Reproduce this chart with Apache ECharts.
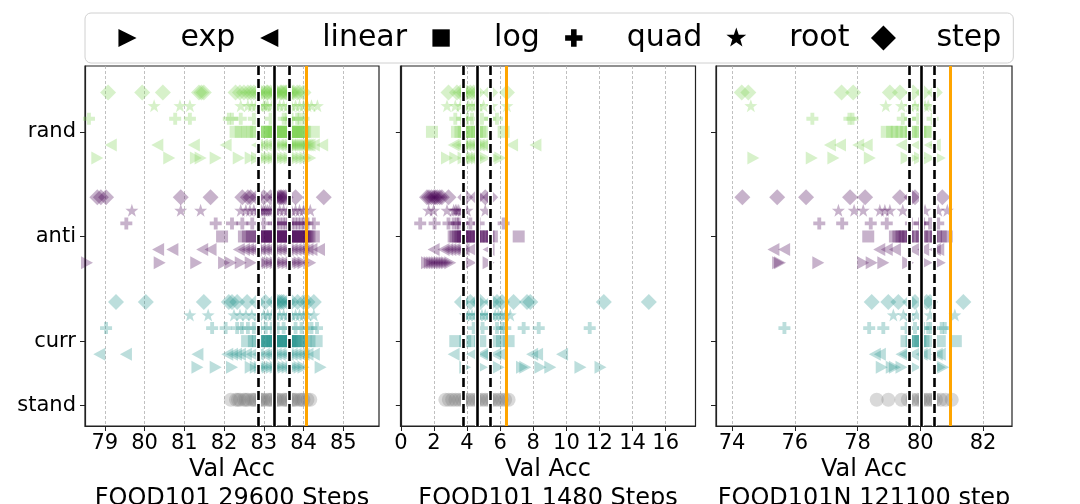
<!DOCTYPE html>
<html>
<head>
<meta charset="utf-8">
<script src="https://cdn.jsdelivr.net/npm/echarts@6/dist/echarts.min.js"></script>
<style>
  html, body { margin: 0; padding: 0; background: #fff; }
  #chart { width: 1080px; height: 504px; }
</style>
</head>
<body>
<div id="chart"></div>
<script>
// y tick labels (category rows)
const yTickLabels = ['rand', 'anti', 'curr', 'stand'];
const yTickValues = [3, 2, 1, 0.385];
const methods = ['exp', 'linear', 'log', 'quad', 'root', 'step'];

// ---- FOOD101 29600 Steps ----
const p1Ticks = [79, 80, 81, 82, 83, 84, 85];
const p1Lines = [82.86, 83.26, 83.64, 84.08]; // lo, mean, hi, best
const p1RandExp = [78.81, 80.62, 81.29, 81.41, 81.79, 82.37, 82.67, 82.83, 82.95, 83.05, 83.15, 83.25, 83.35, 83.45, 83.55, 83.65, 83.75, 83.85, 83.95, 84.05, 84.17];
const p1RandLinear = [79.15, 80.32, 81.24, 82.04, 82.83, 82.95, 83.05, 83.15, 83.25, 83.35, 83.42, 83.5, 83.58, 83.6, 83.66, 83.7, 83.75, 83.8, 83.85, 83.9, 83.95, 84.0, 84.05, 84.1, 84.15, 84.26, 84.47];
const p1RandLog = [82.29, 82.42, 82.58, 82.71, 82.8, 83.0, 83.04, 83.08, 83.12, 83.15, 83.22, 83.26, 83.3, 83.34, 83.38, 83.42, 83.45, 83.52, 83.56, 83.6, 83.64, 83.68, 83.72, 83.75, 83.82, 83.86, 83.9, 83.94, 83.97, 84.0, 84.04, 84.26];
const p1RandQuad = [78.6, 80.77, 81.14, 82.12, 82.2, 82.42, 82.75, 83.17, 83.5, 83.58, 83.63, 83.7, 83.84, 83.9, 84.0];
const p1RandRoot = [80.24, 80.89, 81.14, 82.42, 82.6, 82.7, 82.8, 82.9, 83.0, 83.05, 83.1, 83.2, 83.3, 83.4, 83.5, 83.6, 83.7, 83.8, 83.9, 84.0, 84.1, 84.2, 84.35];
const p1RandStep = [79.08, 79.94, 80.46, 81.37, 81.43, 81.49, 82.29, 82.4, 82.5, 82.6, 82.67, 82.75, 82.83, 82.92, 83.0, 83.08, 83.1, 83.17, 83.25, 83.3, 83.33, 83.42, 83.45, 83.5, 83.55, 83.58, 83.67, 83.7, 83.75, 83.84, 83.9, 84.0];
const p1AntiExp = [78.55, 80.38, 81.3, 82.0, 82.17, 82.42, 82.67, 83.0, 83.1, 83.2, 83.3, 83.4, 83.5, 83.6, 83.7, 83.8, 83.9, 84.0, 84.17];
const p1AntiLinear = [80.34, 80.7, 81.45, 81.66, 82.37, 82.5, 82.6, 82.7, 82.8, 82.9, 83.0, 83.1, 83.2, 83.3, 83.4, 83.5, 83.6, 83.7, 83.8, 83.9, 84.0, 84.1, 84.2, 84.39];
const p1AntiLog = [81.95, 82.5, 82.6, 82.7, 82.8, 82.9, 82.95, 83.0, 83.05, 83.1, 83.15, 83.2, 83.25, 83.3, 83.35, 83.4, 83.45, 83.5, 83.55, 83.6, 83.65, 83.7, 83.75, 83.8, 83.85, 83.9, 83.95, 84.0, 84.05, 84.1, 84.15, 84.26];
const p1AntiQuad = [79.54, 81.79, 82.2, 82.46, 82.71, 83.0, 83.25, 83.32, 83.4, 83.48, 83.55, 83.62, 83.7, 83.78, 83.86, 83.94, 84.02, 84.1, 84.26];
const p1AntiRoot = [79.68, 80.91, 81.41, 82.42, 82.55, 82.65, 82.75, 82.85, 82.9, 82.95, 83.0, 83.05, 83.1, 83.15, 83.2, 83.3, 83.4, 83.5, 83.6, 83.7, 83.8, 83.9, 84.0, 84.17];
const p1AntiStep = [78.81, 78.9, 79.03, 80.91, 81.66, 82.46, 82.6, 82.67, 82.83, 83.0, 83.17, 83.3, 83.38, 83.42, 83.45, 83.5, 83.55, 83.8, 84.51];
const p1CurrExp = [81.33, 81.79, 82.2, 82.67, 82.8, 82.9, 83.0, 83.1, 83.2, 83.3, 83.4, 83.5, 83.6, 83.7, 83.8, 83.9, 84.0, 84.43];
const p1CurrLinear = [78.86, 79.53, 81.33, 82.08, 82.2, 82.3, 82.4, 82.55, 82.7, 82.85, 83.0, 83.1, 83.2, 83.3, 83.4, 83.5, 83.6, 83.7, 83.8, 83.9, 84.0, 84.1, 84.26];
const p1CurrLog = [82.58, 82.75, 82.85, 82.95, 83.0, 83.05, 83.1, 83.12, 83.2, 83.24, 83.28, 83.32, 83.35, 83.42, 83.46, 83.5, 83.54, 83.58, 83.62, 83.66, 83.7, 83.75, 83.8, 83.85, 83.9, 83.95, 84.05, 84.15, 84.33];
const p1CurrQuad = [79.03, 81.7, 82.04, 82.33, 82.45, 82.6, 82.75, 82.9, 83.05, 83.2, 83.35, 83.5, 83.65, 83.8, 83.95, 84.1, 84.2, 84.34];
const p1CurrRoot = [81.14, 81.6, 82.25, 82.4, 82.55, 82.7, 82.85, 83.0, 83.1, 83.2, 83.3, 83.4, 83.5, 83.6, 83.7, 83.8, 83.9, 84.0, 84.1, 84.26];
const p1CurrStep = [79.28, 80.03, 81.49, 82.12, 82.2, 82.33, 82.58, 82.83, 83.04, 83.25, 83.35, 83.4, 83.45, 83.5, 83.6, 83.7, 83.85, 84.0, 84.1, 84.26];
const p1Stand = [82.17, 82.3, 82.35, 82.4, 82.5, 82.55, 82.6, 82.7, 82.75, 82.8, 82.9, 82.95, 83.0, 83.1, 83.15, 83.2, 83.3, 83.35, 83.4, 83.5, 83.55, 83.6, 83.7, 83.75, 83.8, 83.9, 83.95, 84.0, 84.1, 84.17];

// ---- FOOD101 1480 Steps ----
const p2Ticks = [0, 2, 4, 6, 8, 10, 12, 14, 16];
const p2Lines = [3.79, 4.64, 5.42, 6.39];
const p2RandExp = [2.79, 3.29, 3.79, 4.0, 4.2, 4.4, 4.6, 4.8, 5.1, 5.71, 6.01];
const p2RandLinear = [3.19, 3.4, 3.69, 3.9, 4.1, 4.3, 4.5, 4.7, 4.9, 5.1, 6.72, 8.13];
const p2RandLog = [1.88, 3.39, 3.6, 3.8, 4.0, 4.2, 4.4, 4.6, 4.8, 5.0, 6.21];
const p2RandQuad = [3.29, 3.69, 4.0, 4.3, 4.9, 5.4, 5.81];
const p2RandRoot = [2.79, 3.29, 3.6, 3.89, 4.1, 4.3, 4.5, 4.7, 5.0, 5.5, 6.41];
const p2RandStep = [2.88, 3.39, 3.6, 3.79, 4.0, 4.2, 4.4, 4.6, 5.4, 6.41];
const p2AntiExp = [1.58, 1.75, 1.9, 2.05, 2.2, 2.35, 2.5, 2.65, 2.8, 2.99, 4.2, 5.3];
const p2AntiLinear = [1.98, 2.58, 2.8, 2.99, 3.2, 3.39, 3.6, 3.79, 4.2, 5.3];
const p2AntiLog = [3.19, 3.3, 3.45, 3.6, 3.75, 3.9, 4.05, 4.2, 4.35, 4.5, 4.7, 4.9, 5.1, 5.3, 5.5, 7.12];
const p2AntiQuad = [1.17, 2.04, 2.88, 3.19, 3.39, 3.5, 3.79, 4.2, 4.7, 6.21];
const p2AntiRoot = [1.68, 1.98, 2.79, 3.19, 3.3, 3.39, 3.5, 3.69, 4.0, 5.1];
const p2AntiStep = [1.58, 1.7, 1.85, 2.0, 2.08, 2.2, 2.35, 2.48, 2.88, 3.89, 4.6, 5.1, 5.4];
const p2CurrExp = [3.89, 4.9, 5.91, 7.32, 7.52, 8.43, 9.03, 10.85, 12.06];
const p2CurrLinear = [3.19, 4.3, 4.9, 5.1, 5.71, 6.01, 7.93, 8.23, 9.74];
const p2CurrLog = [3.29, 3.89, 4.4, 4.8, 5.71, 6.11, 6.51];
const p2CurrQuad = [4.4, 4.94, 5.81, 6.11, 6.31, 7.42, 8.33, 11.41];
const p2CurrRoot = [3.89, 4.1, 4.3, 4.5, 4.7, 4.9, 5.1, 5.3, 5.5, 5.7, 5.9, 6.1, 6.3, 6.61];
const p2CurrStep = [3.69, 4.2, 4.6, 4.8, 5.5, 5.81, 6.11, 6.81, 7.62, 7.82, 12.26, 14.98];
const p2Stand = [2.69, 2.9, 3.1, 3.3, 3.5, 3.7, 3.9, 4.1, 4.3, 4.5, 4.7, 4.9, 5.1, 5.3, 5.5, 5.7, 5.9, 6.1, 6.3, 6.51];

// ---- FOOD101N 121100 step ----
const p3Ticks = [74, 76, 78, 80, 82];
const p3Lines = [79.65, 80.02, 80.44, 80.94];
const p3RandExp = [74.68, 76.54, 77.23, 78.39, 79.56, 79.77, 79.99, 80.3, 80.62];
const p3RandLinear = [77.12, 77.44, 78.02, 78.29, 79.4, 79.88, 80.3, 80.46];
const p3RandLog = [78.93, 79.1, 79.25, 79.4, 79.55, 79.7, 79.85, 80.0, 80.15, 80.3];
const p3RandQuad = [76.56, 77.74, 77.84, 79.44, 79.67, 79.93, 80.39];
const p3RandRoot = [74.6, 78.9, 79.4, 79.67, 79.83, 79.99, 80.15, 80.25];
const p3RandStep = [74.31, 74.52, 77.49, 77.86, 79.03, 79.35, 79.77, 80.09, 80.46];
const p3AntiExp = [75.47, 75.53, 76.75, 78.18, 78.45, 78.82, 79.61, 80.2, 80.62];
const p3AntiLinear = [75.32, 75.66, 78.69, 78.93, 79.19, 79.77, 80.09, 80.46, 80.57];
const p3AntiLog = [78.34, 79.19, 79.3, 79.4, 79.5, 79.6, 79.75, 79.9, 80.05, 80.2, 80.35, 80.5, 80.65, 80.84];
const p3AntiQuad = [76.78, 77.51, 78.42, 78.93, 79.7, 79.99, 80.09, 80.31, 80.57];
const p3AntiRoot = [77.39, 77.89, 78.18, 78.71, 78.87, 79.03, 79.44, 80.15, 80.57, 80.86];
const p3AntiStep = [74.33, 75.44, 76.36, 77.76, 78.24, 79.35, 79.72, 79.83, 80.7];
const p3CurrExp = [78.77, 79.09, 79.19, 79.4, 79.83, 80.62, 80.73];
const p3CurrLinear = [78.55, 78.71, 79.4, 79.51, 79.77, 80.04, 80.15, 80.52, 80.62];
const p3CurrLog = [79.56, 79.72, 79.8, 79.9, 80.0, 80.1, 80.2, 80.62, 81.13];
const p3CurrQuad = [75.67, 78.37, 78.82, 79.56, 79.83, 80.09, 80.25, 80.36, 80.68, 80.78];
const p3CurrRoot = [79.14, 79.46, 79.67, 79.88, 80.31, 81.1];
const p3CurrStep = [78.45, 78.98, 79.3, 79.67, 79.83, 80.2, 80.31, 81.37];
const p3Stand = [78.61, 78.98, 79.4, 79.6, 79.75, 79.9, 80.0, 80.1, 80.2, 80.3, 80.4, 80.5, 80.65, 80.8, 81.0];

// ---- layout / style ----
const FONT = 'DejaVu Sans';
const groupColors = { rand: '#7ad151', anti: '#440154', curr: '#21918c', stand: '#808080' };
const groupBase = { rand: 3, anti: 2, curr: 1 };
const rowOffset = { exp: -0.25, linear: -0.125, log: 0, quad: 0.125, root: 0.25, step: 0.375 };
const standY = 0.44;
const yRange = [0.189, 3.629];

function starPath() {
  let d = '';
  for (let i = 0; i < 10; i++) {
    const r = i % 2 ? 0.4 : 1;
    const a = Math.PI / 2 - (i * Math.PI) / 5;
    d += (i ? 'L' : 'M') + (r * Math.cos(a)).toFixed(3) + ',' + (-r * Math.sin(a)).toFixed(3);
  }
  return d + 'Z';
}

const shapes = {
  exp: 'M0,0L10,5L0,10Z',
  linear: 'M10,0L0,5L10,10Z',
  log: 'M0,0H10V10H0Z',
  quad: 'M3.4,0H6.6V3.4H10V6.6H6.6V10H3.4V6.6H0V3.4H3.4Z',
  root: starPath(),
  step: 'M5,0L10,5L5,10L0,5Z',
};
const symbolSizes = { exp: [12, 13], linear: [12, 13], log: 12, quad: 12, root: 13, step: 16 };

// legend icons: empty corner points widen the box so the diamond reads larger than the rest
const legendPad = { exp: 1.9, linear: 1.9, log: 2.2, quad: 2.2, root: 0.2, step: 0 };
function legendIcon(m) {
  const isStar = m === 'root';
  const lo = isStar ? -1 - legendPad[m] : -legendPad[m];
  const hi = isStar ? 1 + legendPad[m] : 10 + legendPad[m];
  const corners = 'M' + lo + ',' + lo + 'L' + lo + ',' + lo + 'M' + hi + ',' + hi + 'L' + hi + ',' + hi;
  return 'path://' + shapes[m] + corners;
}

const panels = [
  {
    title: 'FOOD101 29600 Steps', min: 78.5, max: 85.9, ticks: p1Ticks, lines: p1Lines, stand: p1Stand,
    left: 85, width: 294,
    rows: {
      rand: { exp: p1RandExp, linear: p1RandLinear, log: p1RandLog, quad: p1RandQuad, root: p1RandRoot, step: p1RandStep },
      anti: { exp: p1AntiExp, linear: p1AntiLinear, log: p1AntiLog, quad: p1AntiQuad, root: p1AntiRoot, step: p1AntiStep },
      curr: { exp: p1CurrExp, linear: p1CurrLinear, log: p1CurrLog, quad: p1CurrQuad, root: p1CurrRoot, step: p1CurrStep },
    },
  },
  {
    title: 'FOOD101 1480 Steps', min: -0.02, max: 17.8, ticks: p2Ticks, lines: p2Lines, stand: p2Stand,
    left: 400.5, width: 295,
    rows: {
      rand: { exp: p2RandExp, linear: p2RandLinear, log: p2RandLog, quad: p2RandQuad, root: p2RandRoot, step: p2RandStep },
      anti: { exp: p2AntiExp, linear: p2AntiLinear, log: p2AntiLog, quad: p2AntiQuad, root: p2AntiRoot, step: p2AntiStep },
      curr: { exp: p2CurrExp, linear: p2CurrLinear, log: p2CurrLog, quad: p2CurrQuad, root: p2CurrRoot, step: p2CurrStep },
    },
  },
  {
    title: 'FOOD101N 121100 step', min: 73.49, max: 82.92, ticks: p3Ticks, lines: p3Lines, stand: p3Stand,
    left: 716, width: 296,
    rows: {
      rand: { exp: p3RandExp, linear: p3RandLinear, log: p3RandLog, quad: p3RandQuad, root: p3RandRoot, step: p3RandStep },
      anti: { exp: p3AntiExp, linear: p3AntiLinear, log: p3AntiLog, quad: p3AntiQuad, root: p3AntiRoot, step: p3AntiStep },
      curr: { exp: p3CurrExp, linear: p3CurrLinear, log: p3CurrLog, quad: p3CurrQuad, root: p3CurrRoot, step: p3CurrStep },
    },
  },
];

function vLine(x, color, width, type) {
  return { xAxis: x, lineStyle: { color: color, width: width, type: type, opacity: 1 } };
}

let grids = [];
let xAxes = [];
let yAxes = [];
let series = [];

panels.forEach((p, i) => {
  grids.push({
    left: p.left, width: p.width, top: 66, height: 360,
    outerBoundsMode: 'none', containLabel: false,
    show: true, borderColor: '#222', borderWidth: 1.2, backgroundColor: '#fff',
  });
  xAxes.push({
    gridIndex: i, type: 'value', min: p.min, max: p.max,
    name: 'Val Acc\n' + p.title, nameLocation: 'middle', nameGap: 29, nameMoveOverlap: false,
    nameTextStyle: { fontFamily: FONT, fontSize: 24, color: '#000', lineHeight: 29 },
    axisLine: { show: true, onZero: false, lineStyle: { color: '#222', width: 1.2 } },
    axisTick: { show: true, customValues: p.ticks, length: 5, lineStyle: { color: '#222', width: 1 } },
    axisLabel: { customValues: p.ticks, margin: 7, fontFamily: FONT, fontSize: 21, color: '#000' },
    splitLine: { show: true, lineStyle: { color: '#b0b0b0', width: 0.8, type: [3, 2] } },
  });
  yAxes.push({
    gridIndex: i, type: 'value', min: yRange[0], max: yRange[1],
    axisLine: { show: true, lineStyle: { color: '#222', width: 1.2 } },
    axisTick: { show: true, customValues: yTickValues, length: 5, lineStyle: { color: '#222', width: 1 } },
    axisLabel: {
      show: i === 0, customValues: yTickValues, margin: 9,
      fontFamily: FONT, fontSize: 21, color: '#000',
      formatter: (v) => {
        let k = 0;
        yTickValues.forEach((t, j) => { if (Math.abs(t - v) < Math.abs(yTickValues[k] - v)) k = j; });
        return yTickLabels[k];
      },
    },
    splitLine: { show: false },
  });

  ['rand', 'anti', 'curr'].forEach((g) => {
    methods.forEach((m) => {
      series.push({
        name: m, type: 'scatter', xAxisIndex: i, yAxisIndex: i,
        symbol: 'path://' + shapes[m], symbolSize: symbolSizes[m],
        itemStyle: { color: groupColors[g], opacity: 0.3 },
        emphasis: { disabled: true },
        data: p.rows[g][m].map((x) => [x, groupBase[g] + rowOffset[m]]),
      });
    });
  });

  const [lo, mean, hi, best] = p.lines;
  series.push({
    name: 'stand', type: 'scatter', xAxisIndex: i, yAxisIndex: i,
    symbol: 'circle', symbolSize: 14,
    itemStyle: { color: groupColors.stand, opacity: 0.3 },
    emphasis: { disabled: true },
    data: p.stand.map((x) => [x, standY]),
    markLine: {
      silent: true, symbol: ['none', 'none'], label: { show: false },
      emphasis: { disabled: true }, animation: false,
      data: [
        vLine(lo, '#fff', 5, 'solid'),
        vLine(hi, '#fff', 5, 'solid'),
        vLine(mean, '#fff', 5, 'solid'),
        vLine(lo, '#000', 2.6, [9, 4]),
        vLine(hi, '#000', 2.6, [9, 4]),
        vLine(mean, '#000', 2.6, 'solid'),
        vLine(best, '#ffa500', 3, 'solid'),
      ],
    },
  });
});

const myChart = echarts.init(document.getElementById('chart'));
myChart.setOption({
  animation: false,
  textStyle: { fontFamily: FONT },
  legend: {
    left: 85, top: 13,
    data: methods.map((m) => ({ name: m, icon: legendIcon(m) })),
    itemWidth: 26, itemHeight: 25, itemGap: 21.5,
    padding: [10, 12, 10, 30],
    borderColor: '#d0d0d0', borderWidth: 1, borderRadius: 6, backgroundColor: '#fff',
    itemStyle: { color: '#000', opacity: 1, borderWidth: 0 },
    textStyle: { fontFamily: FONT, fontSize: 30, color: '#000', padding: [0, 0, 0, 35], lineHeight: 29 },
    selectedMode: false,
  },
  grid: grids,
  xAxis: xAxes,
  yAxis: yAxes,
  series: series,
});
</script>
</body>
</html>
